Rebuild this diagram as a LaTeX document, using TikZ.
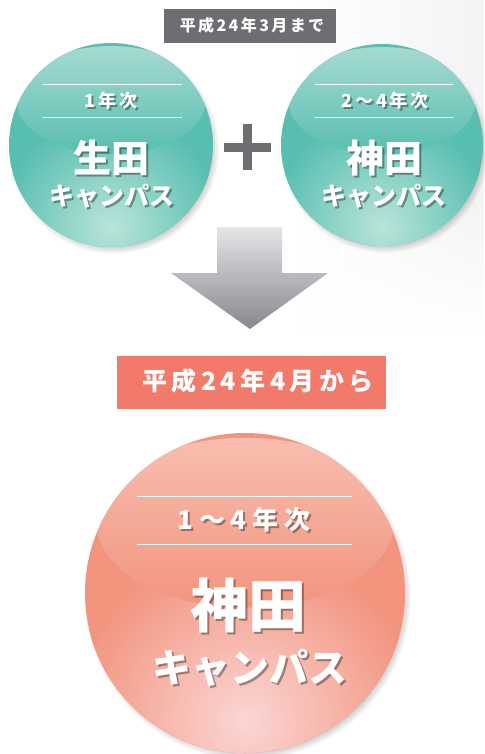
\documentclass[tikz,border=0pt]{standalone}
\usepackage{fontspec}
\newfontfamily\jp{Noto Sans CJK JP}
\newfontfamily\jpA{Noto Sans CJK JP}[LetterSpace=15]
\newfontfamily\jpB{Noto Sans CJK JP}[LetterSpace=18]
\newfontfamily\jpC{Noto Sans CJK JP}[LetterSpace=22]
\usetikzlibrary{fadings}
\definecolor{teal0}{RGB}{88,190,176}
\definecolor{teal1}{RGB}{165,218,209}
\definecolor{teal2}{RGB}{185,228,218}
\definecolor{sal0}{RGB}{242,148,126}
\definecolor{sal1}{RGB}{248,190,175}
\definecolor{sal2}{RGB}{251,214,212}
\definecolor{gray0}{RGB}{109,110,113}
\definecolor{pinklab}{RGB}{241,122,107}
\definecolor{arrtop}{RGB}{228,229,231}
\definecolor{arrbot}{RGB}{135,136,141}
\tikzset{
  wtxt/.style={text=white,inner sep=0pt},
  stxt/.style={text=black,opacity=0.35,inner sep=0pt},
  rule/.style={draw=white,line width=0.8pt},
}
% #1 center x, #2 center y, #3 radius, #4 base, #5 gloss, #6 glow
\newcommand{\ballx}[6]{%
  \foreach \i in {1,...,8}{\fill[black,opacity=0.025] (#1+3,#2+4) circle[radius=#3pt-5pt+\i pt];}
  \fill[#4] (#1,#2) circle[radius=#3pt];
  \begin{scope}
    \clip (#1,#2) circle[radius=#3pt];
    \shade[inner color=#6,outer color=#4] (#1,#2+0.8*#3) circle[radius=1.1*#3 pt];
    \shade[top color=#5,bottom color=#4] (#1,#2-0.44*#3) ellipse[x radius=0.93*#3 pt,y radius=0.53*#3 pt];
  \end{scope}
}
\newcommand{\shtext}[5]{% x,y,name,font,text
  \node[stxt,font=#4] (#3s) at (#1+2,#2+2) {#5};
  \node[wtxt,font=#4] (#3) at (#1,#2) {#5};
}
\begin{document}
\begin{tikzpicture}[x=1pt,y=-1pt]
\useasboundingbox (0,0) rectangle (484,754);
\fill[white] (0,0) rectangle (484,754);
\fill[blue!10!gray!8,path fading=west] (300,0) rectangle (484,330);
\fill[white,path fading=north] (300,200) rectangle (484,331);

% top label
\node[fill=gray0,minimum width=172pt,minimum height=34pt,inner sep=0pt] (lab1) at (250,26) {};
\node[wtxt,font=\jpA\bfseries\fontsize{16}{16}\selectfont] (lab1t) at (252,25) {平成24年3月まで};

% left ball
\ballx{111}{145}{102}{teal0}{teal1}{teal2}
\draw[rule] (43,84) -- (182,84);
\draw[rule] (43,117) -- (182,117);
\shtext{111}{101}{l1}{\jpA\bfseries\fontsize{18}{18}\selectfont}{1年次}
\shtext{111}{158}{l2}{\jp\bfseries\fontsize{38}{38}\selectfont}{生田}
\shtext{112}{196}{l3}{\jp\bfseries\fontsize{25}{25}\selectfont}{キャンパス}

% right ball
\ballx{382}{145}{101}{teal0}{teal1}{teal2}
\draw[rule] (315,84) -- (453,84);
\draw[rule] (315,117) -- (453,117);
\shtext{385}{101}{r1}{\jpA\bfseries\fontsize{18}{18}\selectfont}{2～4年次}
\shtext{384}{158}{r2}{\jp\bfseries\fontsize{38}{38}\selectfont}{神田}
\shtext{384}{196}{r3}{\jp\bfseries\fontsize{25}{25}\selectfont}{キャンパス}

% plus
\fill[gray0] (224,143) rectangle (271,152);
\fill[gray0] (243,124) rectangle (252,170);

% arrow
\shade[top color=arrtop,bottom color=arrbot]
  (217,227) -- (282,227) -- (282,273) -- (328,273) -- (250,329) -- (171,273) -- (217,273) -- cycle;

% bottom label
\node[fill=pinklab,minimum width=269pt,minimum height=53pt,inner sep=0pt] (lab2) at (251.5,382.5) {};
\node[wtxt,font=\jpB\bfseries\fontsize{25}{25}\selectfont] (lab2t) at (258,381) {平成24年4月から};

% big ball
\ballx{245}{593}{160}{sal0}{sal1}{sal2}
\draw[rule] (137,496) -- (352,496);
\draw[rule] (137,544) -- (352,544);
\shtext{244}{520}{b1}{\jpC\bfseries\fontsize{26}{26}\selectfont}{1～4年次}
\shtext{248}{606}{b2}{\jp\bfseries\fontsize{58}{58}\selectfont}{神田}
\shtext{250}{668}{b3}{\jp\bfseries\fontsize{39}{39}\selectfont}{キャンパス}
\end{tikzpicture}
\end{document}
